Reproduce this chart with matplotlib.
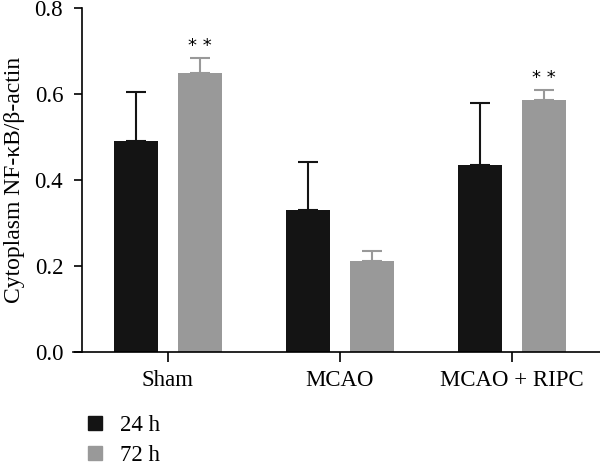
import numpy as np
import matplotlib.pyplot as plt
from matplotlib.patches import Patch

plt.rcParams['font.family'] = ['Liberation Serif', 'DejaVu Serif']

groups = ["Sham", "MCAO", "MCAO + RIPC"]
mean_24h = [0.491, 0.330, 0.435]
err_24h = [0.114, 0.112, 0.144]
mean_72h = [0.649, 0.212, 0.586]
err_72h = [0.035, 0.024, 0.023]
stars_72h = ["* *", "", "* *"]

c24 = '#141414'
c72 = '#999999'
fs = 16.5

fig = plt.figure(figsize=(6, 4.66), dpi=100)
ax = fig.add_axes([73 / 600, 1 - 352 / 466, 1 - 73 / 600, 344 / 466])

x = np.arange(len(groups))
off = 0.186
w = 0.256
ax.bar(x - off, mean_24h, w, color=c24, zorder=2)
ax.bar(x + off, mean_72h, w, color=c72, zorder=2)
ax.errorbar(x - off, mean_24h, yerr=[np.zeros(3), err_24h], fmt='none',
            ecolor=c24, elinewidth=1.5, capsize=7.5, capthick=1.5, zorder=1)
ax.errorbar(x + off, mean_72h, yerr=[np.zeros(3), err_72h], fmt='none',
            ecolor=c72, elinewidth=1.5, capsize=7.5, capthick=1.5, zorder=1)

for xi, m, e, s in zip(x, mean_72h, err_72h, stars_72h):
    if s:
        ax.text(xi + off, m + e + 0.007, s, ha='center', va='bottom',
                fontsize=13, family='DejaVu Sans')

ax.set_xlim(-0.552, 2.512)
ax.set_ylim(0, 0.8)
ax.set_yticks([0, 0.2, 0.4, 0.6, 0.8])
ax.set_yticklabels(['0.0', '0.2', '0.4', '0.6', '0.8'])
ax.set_xticks(x)
ax.set_xticklabels(groups)
ax.spines['top'].set_visible(False)
ax.spines['right'].set_visible(False)
ax.spines['left'].set_position(('data', -0.5))
ax.spines['left'].set_bounds(0, 0.8)
for sp in ['left', 'bottom']:
    ax.spines[sp].set_linewidth(1.2)
ax.tick_params(axis='y', labelsize=fs, width=1.2, length=6, pad=7.5)
ax.tick_params(axis='x', labelsize=fs, width=1.2, length=7, pad=6)
ax.set_ylabel('Cytoplasm NF-κB/β-actin', fontsize=fs + 0.5, labelpad=7)

handles = [Patch(color=c24, label='24 h'), Patch(color=c72, label='72 h')]
fig.legend(handles=handles, loc='upper left', bbox_to_anchor=(72 / 600, 1 - 399 / 466),
           frameon=False, fontsize=fs, handlelength=0.6, handleheight=0.6,
           handletextpad=0.8, labelspacing=0.4, borderpad=0.2)

fig.savefig('out.png', dpi=100)
